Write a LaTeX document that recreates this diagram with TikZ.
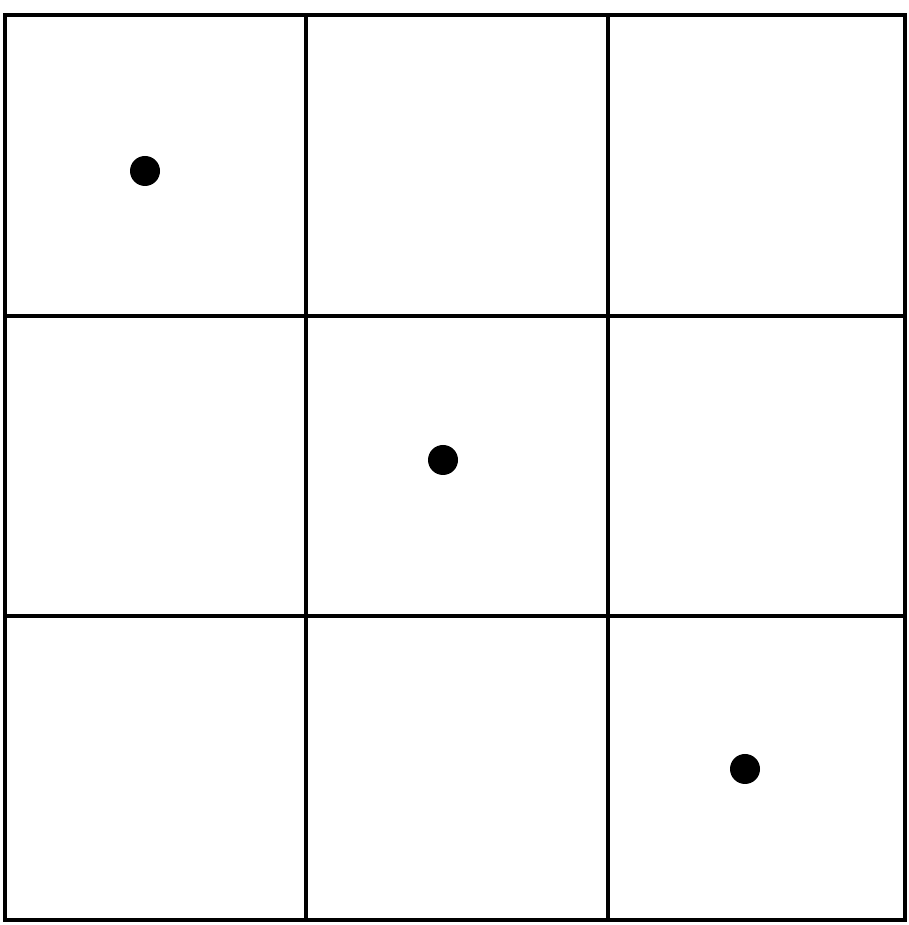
\documentclass[tikz,border=0pt]{standalone}

\begin{document}
\begin{tikzpicture}[
    gridline/.style={
        line width=1.1pt,
        black
    },
    dot/.style={
        circle,
        fill=black,
        inner sep=0pt,
        minimum size=3mm
    }
]

% Fix the page to the reference size
\useasboundingbox (0,0) rectangle (9.08,9.25);

% ==================================================
% Outer frame and cell borders
% ==================================================

\draw[gridline] (0.05,0.05) rectangle (9.05,9.10);

% Vertical borders
\draw[gridline] (3.06,0.05) -- (3.06,9.10);
\draw[gridline] (6.08,0.05) -- (6.08,9.10);

% Horizontal borders
\draw[gridline] (0.05,6.09) -- (9.05,6.09);
\draw[gridline] (0.05,3.09) -- (9.05,3.09);

% ==================================================
% Dots on the diagonal
% ==================================================

\node[dot] (topleft) at (1.45,7.54) {};
\node[dot] (centre) at (4.43,4.65) {};
\node[dot] (bottomright) at (7.45,1.56) {};

\end{tikzpicture}
\end{document}
